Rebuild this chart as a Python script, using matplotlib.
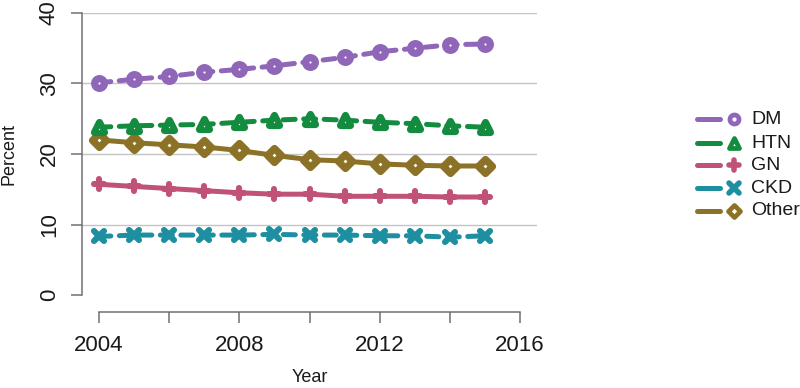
import numpy as np
import matplotlib
matplotlib.use('Agg')
import matplotlib.pyplot as plt
from matplotlib.markers import MarkerStyle
from matplotlib.lines import Line2D

plt.rcParams['font.family'] = ['Liberation Sans', 'DejaVu Sans']

years = [2004, 2005, 2006, 2007, 2008, 2009, 2010, 2011, 2012, 2013, 2014, 2015]
dm = [30.1, 30.6, 31.0, 31.6, 32.0, 32.5, 33.1, 33.7, 34.5, 35.0, 35.5, 35.6]
htn = [23.8, 24.0, 24.1, 24.2, 24.5, 24.8, 25.0, 24.8, 24.5, 24.3, 24.0, 23.8]
gn = [15.7, 15.4, 15.1, 14.8, 14.5, 14.3, 14.3, 14.0, 14.0, 14.0, 13.9, 13.9]
ckd = [8.3, 8.5, 8.5, 8.5, 8.5, 8.6, 8.5, 8.5, 8.4, 8.4, 8.2, 8.4]
other = [22.0, 21.6, 21.3, 21.0, 20.5, 19.8, 19.2, 19.0, 18.6, 18.4, 18.3, 18.3]

names = ['DM', 'HTN', 'GN', 'CKD', 'Other']
colors = ['#9066b8', '#138c40', '#c05276', '#1d8fa0', '#8c7227']
markers = ['o', '^', '+', 'x', 'D']
dashed = [True, True, False, True, False]
series = [dm, htn, gn, ckd, other]

# open symbols (R pch 1,2,5) vs stroke symbols (pch 3,4)
open_ms, open_mew = 7.0, 5.2
stroke_ms, stroke_mew = 7.5, 4.4

fig = plt.figure(figsize=(8, 3.88), dpi=100)
ax = fig.add_axes([82/800, 93/388, 455/800, 282/388])

ax.set_xlim(2003.52, 2016.48)
ax.set_ylim(0, 40)

for v in [10, 20, 30, 40]:
    ax.axhline(v, color='#c4c4c4', lw=1.0, zorder=0)

# draw in legend order reversed so DM sits on top
for i in range(len(series) - 1, -1, -1):
    ms = MarkerStyle(markers[i], capstyle='round', joinstyle='round')
    filled = markers[i] in ['o', '^', 'D']
    ln, = ax.plot(years, series[i], color=colors[i], lw=3.6,
                  marker=ms, markersize=open_ms if filled else stroke_ms,
                  markerfacecolor='white' if filled else colors[i],
                  markeredgecolor=colors[i], markeredgewidth=open_mew if filled else stroke_mew,
                  solid_capstyle='round', dash_capstyle='round', zorder=3)
    if dashed[i]:
        ln.set_dashes((2.4, 1.7))

for s in ['top', 'right']:
    ax.spines[s].set_visible(False)
ax.spines['left'].set_color('#707070')
ax.spines['left'].set_linewidth(1.1)
ax.spines['bottom'].set_color('#707070')
ax.spines['bottom'].set_linewidth(1.1)
ax.spines['bottom'].set_position(('outward', 12))
ax.spines['bottom'].set_bounds(2004, 2016)

ax.set_xticks(np.arange(2004, 2017, 2))
ax.set_xticklabels(['2004', '', '2008', '', '2012', '', '2016'])
ax.set_yticks([0, 10, 20, 30, 40])
ax.tick_params(axis='both', direction='out', length=8, width=1.1, color='#707070',
               labelsize=16, labelcolor='#1a1a1a')
ax.tick_params(axis='x', pad=9)
ax.tick_params(axis='y', pad=8)
for t in ax.get_yticklabels():
    t.set_rotation(90)
    t.set_va('center')

ax.set_xlabel('Year', fontsize=13, color='#1a1a1a')
ax.xaxis.set_label_coords(0.5, -0.294)
ax.xaxis.label.set_va('center')
ax.set_ylabel('Percent', fontsize=13, color='#1a1a1a')
ax.yaxis.set_label_coords(-0.16, 0.5)
ax.yaxis.label.set_va('center')

# legend drawn R-style: line segment, then symbol, then label
row_y = [119, 143, 165, 188, 211]
for i in range(len(names)):
    fy = 1 - row_y[i] / 388
    fig.add_artist(Line2D([697/800, 720/800], [fy, fy], transform=fig.transFigure,
                          color=colors[i], lw=3.6, solid_capstyle='round'))
    ms = MarkerStyle(markers[i], capstyle='round', joinstyle='round')
    filled = markers[i] in ['o', '^', 'D']
    fig.add_artist(Line2D([734/800], [fy], transform=fig.transFigure, linestyle='none',
                          marker=ms, markersize=6.5 if filled else 7.5,
                          markerfacecolor='white' if filled else colors[i],
                          markeredgecolor=colors[i], markeredgewidth=3.4 if filled else 4.0))
    fig.text(751/800, fy, names[i], fontsize=14, va='center', ha='left', color='#1a1a1a')

fig.savefig('out.png', dpi=100)
